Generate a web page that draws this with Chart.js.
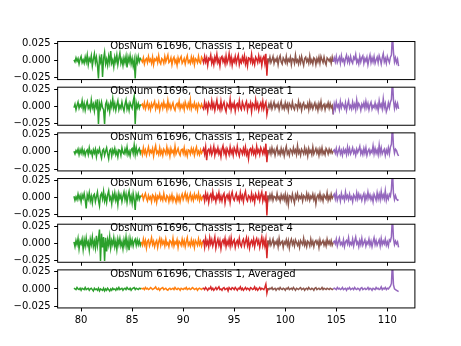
<!DOCTYPE html>
<html>
<head>
<meta charset="utf-8">
<script src="https://cdn.jsdelivr.net/npm/chart.js@4/dist/chart.umd.min.js"></script>
<style>
  body { margin: 0; background: #fff; }
  #fig { position: relative; width: 461px; height: 346px; overflow: hidden; }
  #fig canvas { position: absolute; left: 0; }
</style>
</head>
<body>
<div id="fig"></div>
<script>
// frequency of each channel (GHz)
const freqs = [
  79.3, 79.4, 79.5, 79.6, 79.7, 79.8, 79.9, 80.0, 80.1, 80.2,
  80.3, 80.4, 80.5, 80.6, 80.7, 80.8, 80.9, 81.0, 81.1, 81.2,
  81.3, 81.4, 81.5, 81.6, 81.7, 81.8, 81.9, 82.0, 82.1, 82.2,
  82.3, 82.4, 82.5, 82.6, 82.7, 82.8, 82.9, 83.0, 83.1, 83.2,
  83.3, 83.4, 83.5, 83.6, 83.7, 83.8, 83.9, 84.0, 84.1, 84.2,
  84.3, 84.4, 84.5, 84.6, 84.7, 84.8, 84.9, 85.0, 85.1, 85.2,
  85.3, 85.4, 85.5, 85.6, 85.7, 85.8, 85.9, 86.0, 86.1, 86.2,
  86.3, 86.4, 86.5, 86.6, 86.7, 86.8, 86.9, 87.0, 87.1, 87.2,
  87.3, 87.4, 87.5, 87.6, 87.7, 87.8, 87.9, 88.0, 88.1, 88.2,
  88.3, 88.4, 88.5, 88.6, 88.7, 88.8, 88.9, 89.0, 89.1, 89.2,
  89.3, 89.4, 89.5, 89.6, 89.7, 89.8, 89.9, 90.0, 90.1, 90.2,
  90.3, 90.4, 90.5, 90.6, 90.7, 90.8, 90.9, 91.0, 91.1, 91.2,
  91.3, 91.4, 91.5, 91.6, 91.7, 91.8, 91.9, 92.0, 92.1, 92.2,
  92.3, 92.4, 92.5, 92.6, 92.7, 92.8, 92.9, 93.0, 93.1, 93.2,
  93.3, 93.4, 93.5, 93.6, 93.7, 93.8, 93.9, 94.0, 94.1, 94.2,
  94.3, 94.4, 94.5, 94.6, 94.7, 94.8, 94.9, 95.0, 95.1, 95.2,
  95.3, 95.4, 95.5, 95.6, 95.7, 95.8, 95.9, 96.0, 96.1, 96.2,
  96.3, 96.4, 96.5, 96.6, 96.7, 96.8, 96.9, 97.0, 97.1, 97.2,
  97.3, 97.4, 97.5, 97.6, 97.7, 97.8, 97.9, 98.0, 98.1, 98.2,
  98.3, 98.4, 98.5, 98.6, 98.7, 98.8, 98.9, 99.0, 99.1, 99.2,
  99.3, 99.4, 99.5, 99.6, 99.7, 99.8, 99.9, 100.0, 100.1, 100.2,
  100.3, 100.4, 100.5, 100.6, 100.7, 100.8, 100.9, 101.0, 101.1, 101.2,
  101.3, 101.4, 101.5, 101.6, 101.7, 101.8, 101.9, 102.0, 102.1, 102.2,
  102.3, 102.4, 102.5, 102.6, 102.7, 102.8, 102.9, 103.0, 103.1, 103.2,
  103.3, 103.4, 103.5, 103.6, 103.7, 103.8, 103.9, 104.0, 104.1, 104.2,
  104.3, 104.4, 104.5, 104.6, 104.7, 104.8, 104.9, 105.0, 105.1, 105.2,
  105.3, 105.4, 105.5, 105.6, 105.7, 105.8, 105.9, 106.0, 106.1, 106.2,
  106.3, 106.4, 106.5, 106.6, 106.7, 106.8, 106.9, 107.0, 107.1, 107.2,
  107.3, 107.4, 107.5, 107.6, 107.7, 107.8, 107.9, 108.0, 108.1, 108.2,
  108.3, 108.4, 108.5, 108.6, 108.7, 108.8, 108.9, 109.0, 109.1, 109.2,
  109.3, 109.4, 109.5, 109.6, 109.7, 109.8, 109.9, 110.0, 110.1, 110.2,
  110.3, 110.4, 110.5, 110.6, 110.7, 110.8, 110.9, 111.0, 111.1
];

// spectra, in units of 1e-3 (bands: green, orange, red, brown, purple)
const repeat0 = [
  1, -2, 4, -1, 3, -5, 2, 6, -3, 1, -4, 5, -2, 8, -6, 3, -1, 7, -8, 2,
  10, -3, 5, -6, -26, 4, -2, 9, -24, 3, 12, -5, 2, -7, 6, -3, 14, -4, 1, -9,
  5, -2, 8, -6, 3, 11, -4, 2, -7, 4, -3, 6, -10, 5, -2, 7, -5, 3, -8, 1,
  -26, 4, -3, 6, -2, 3, 1,
  -2, 4, -5, 1, 3, -3, 6, -1, 2, -4, 5, -6, 2, 0, 4, -3, 7, -2, -5, 3,
  1, -4, 6, -2, 3, 8, -3, -1, 4, -6, 2, 5, -3, 1, -7, 4, -2, 3, 6, -4,
  -1, 3, -5, 2, 7, -3, 0, -4, 5, -2, 4, -6, 3, 1, -3, 6, -2, -4, 5, 2,
  -3, 6, -2, 4, -7, 3, 1, 8, -4, 2, -6, 5, -1, 9, -3, 2, -8, 4, 6, -2,
  3, -5, 7, -4, 1, 10, -3, 5, -7, 2, -2, 6, -4, 3, 8, -6, 1, -3, 5, -1,
  7, -5, 2, -8, 4, 3, -2, 9, -4, 1, -6, 5, 2, -3, 7, -1, 4, -7, 3, 6,
  -4, 10, -22, 3,
  -2, 5, -3, 1, 6, -4, 2, -1, 4, -6, 3, 7, -2, -5, 4, 1, -3, 6, -4, 2,
  -1, 5, -6, 3, 2, -4, 8, -2, 1, -5, 4, -3, 6, -1, -7, 3, 5, -2, 2, -4,
  7, -3, 1, -5, 4, 2, -6, 3, -2, 5, -4, 6, 1, -3, 5, -2, -6, 4, 2, -1,
  3, -4, 5, -2,
  4, -2, 6, -3, 1, 5, -4, 7, -1, 2, -5, 3, 8, -2, 4, -3, 6, -1, -4, 5,
  2, 9, -3, 1, -5, 6, -2, 4, 7, -4, 3, -1, 5, -6, 2, 8, -3, 4, -2, 6,
  -4, 1, 5, -3, 7, 2, -5, 4, 10, -2, 3, -4, 6, 1, -3, 5, 8, 40, 12, -2,
  4, -3, 2, -8
];
const repeat1 = [
  -2, 3, -5, 1, 6, -3, 2, -1, 8, -4, 4, -6, 2, 7, -3, 1, -5, 9, -2, 3,
  -7, 5, -1, 10, -26, 4, -3, 6, -2, -5, -26, 3, 7, -4, 2, -8, 5, -1, 11, -3,
  4, -6, 2, 8, -5, 1, -3, 6, -2, -7, 3, 9, -4, 2, -6, 5, 1, -3, 7, 14,
  -26, 5, -2, 4, -3, 2, 1,
  3, -2, 5, -4, 1, 6, -3, 2, -5, 4, -1, 3, 7, -4, 2, -2, 5, -6, 1, 4,
  -3, 6, -1, 2, -5, 8, -2, 3, -4, 1, 5, -3, -6, 2, 4, -1, 7, -4, 2, -2,
  3, -5, 6, 1, -3, 4, -2, 9, -4, 2, -1, 5, -3, 2, -6, 4, 1, -2, 3, -1,
  -4, 6, -2, 3, -7, 5, 1, -3, 8, -2, 4, -6, 2, 9, -3, 1, -5, 7, -4, 2,
  6, -3, -8, 4, 1, -2, 10, -5, 3, -1, 5, -7, 2, 4, -3, 8, -2, -5, 6, 1,
  -4, 3, 7, -6, 2, -1, 5, -8, 4, 2, -3, 9, -2, 4, -6, 1, 5, -3, 7, -4,
  2, 6, -12, -3,
  3, -2, 5, -4, 1, 6, -3, 2, -1, 4, -5, 2, 7, -3, 1, -4, 5, -2, 3, -6,
  4, 1, -3, 6, -2, -5, 3, 2, -4, 7, -1, 3, -6, 2, 5, -3, 1, -2, 4, -5,
  6, -2, 3, -4, 1, 5, -3, 2, -6, 4, -2, 7, -4, 1, 3, -5, 2, -1, 5, -3,
  4, -2, 1, -12,
  3, -4, 6, -1, 2, -5, 7, -2, 4, 1, -3, 5, -6, 2, 8, -3, 1, -4, 6, -2,
  3, -5, 9, -2, 4, 1, -6, 3, -1, 5, -3, 7, -2, 4, -5, 2, 6, -4, 1, -2,
  5, -3, 2, -6, 8, -1, 3, -4, 11, -2, 4, -8, -3, 5, -2, 6, 10, 40, 9, -3,
  5, -2, 4, -4
];
const repeat2 = [
  1, -3, 2, -1, 4, -4, 3, -2, 5, -3, 2, -5, 1, 3, -4, 6, -2, 1, -6, 3,
  -2, 4, -7, 2, -1, 5, -3, -9, 2, 4, -5, 1, 6, -3, -10, 2, 4, -6, 3, -2,
  5, -4, 1, -7, 3, 2, -5, 6, -1, -3, 4, -2, 7, -4, 1, -6, 3, 5, -2, 10,
  -4, 6, -3, 2, 5, -2, 3,
  -4, 6, -2, 3, -5, 1, 7, -3, 2, -1, 5, -6, 3, 9, -2, 1, -4, 6, -3, 2,
  -5, 4, 1, -3, 7, -2, 3, -6, 5, -1, 2, -4, 8, -3, 1, 5, -2, -5, 3, 4,
  -2, 6, -4, 1, -6, 3, 2, -3, 5, -1, 4, -5, 2, 7, -3, 1, -4, 3, -2, 1,
  5, -3, 7, -12, 2, 4, -2, 6, -4, 1, 8, -5, 3, -1, 6, -3, 2, -7, 4, 9,
  -2, 3, -6, 5, 1, -4, 7, -2, 3, -5, 6, 2, -3, 8, -1, -6, 4, 2, -3, 5,
  -2, 7, -4, 1, -10, 3, 5, -2, 6, -3, 2, -5, 8, -1, 3, -4, 6, 2, -3, 4,
  -2, 12, -15, 3,
  -2, 4, -3, 6, -1, 3, -5, 2, 7, -3, 1, -4, 5, -2, 3, -6, 2, 8, -3, 1,
  -5, 4, 2, -3, 6, -1, 3, -4, 9, -2, 2, -5, 4, 1, -3, 6, -2, 3, -6, 5,
  -1, 2, -4, 7, -3, 1, 5, -2, 3, -5, 4, -2, 6, -3, 1, -4, 5, 2, -3, 4,
  -1, 3, -2, 1,
  3, -2, 5, -4, 1, 6, -3, 2, -5, 4, -1, 3, -4, 7, -2, 5, -3, 1, 6, -2,
  2, -5, 4, -1, 3, 8, -3, 2, -4, 5, -2, 6, -5, 1, 4, -3, 2, -1, 9, -3,
  5, -2, 3, -4, 10, -2, 6, -3, 1, 4, -5, 3, -2, 6, -3, 7, 11, 40, 8, -2,
  4, 2, -3, -6
];
const repeat3 = [
  2, -4, 1, -3, 5, -2, 3, -6, 4, -1, 6, -3, -16, 4, -2, 7, -5, 2, -8, 3,
  5, -6, 1, 8, -4, -12, 3, 6, -2, 9, -5, 2, -7, 4, 10, -3, 1, -9, 5, -2,
  7, -4, 3, -10, 6, -1, 4, -6, 2, 8, -3, 5, -7, 3, 9, -5, 2, -8, 6, -3,
  -18, 4, -2, 5, -3, 2, 1,
  4, -3, 2, 6, -1, -5, 3, -2, 1, -6, 4, 2, -4, 3, -7, 2, -1, 5, -3, 1,
  -4, 6, -2, -5, 3, 1, -6, 2, -3, 4, -5, 1, -2, -7, 3, -4, 2, -6, 1, 5,
  -3, 2, 7, -2, 4, -5, 1, 6, -3, 2, -4, 5, -1, 3, -2, 6, -4, 2, -3, 1,
  3, -5, 6, -2, 4, -7, 2, 5, -3, 8, -2, 1, -6, 4, -1, 7, -4, 2, -5, 3,
  6, -8, 1, 4, -2, 5, -7, 3, 8, -1, -4, 2, 6, -3, 1, -5, 7, -2, 3, -6,
  4, 9, -2, -5, 3, 1, -4, 6, -3, 2, -7, 5, 1, -2, 6, -4, 3, 8, -5, 2,
  -3, 9, -26, 3,
  -3, 4, -2, 5, -4, 2, 1, -3, 6, -2, 1, -5, 4, -2, 3, -3, 5, -6, 2, -10,
  3, 2, -4, 5, -2, -8, 4, -1, 6, -3, 2, -1, 4, -5, 3, 1, -3, 6, -2, 4,
  -4, 2, -1, 5, -3, 3, -9, 1, 4, -2, 6, -3, 2, -5, 4, 1, -2, 7, -4, 2,
  -3, 5, -1, 2,
  5, -2, 7, -4, 1, 3, -5, 6, -1, 2, -4, 8, -1, 3, -3, 5, -2, 1, -6, 4,
  1, -3, 7, -2, 5, -1, 3, -4, 2, 6, -5, 3, -2, 8, -1, 4, -3, 2, -6, 5,
  1, -4, 7, -2, 5, -3, 9, -1, 4, -2, 10, -4, 3, -2, 5, 2, 12, 40, 6, -3,
  3, -2, -4, -3
];
const repeat4 = [
  2, -5, 4, -2, 7, -8, 3, -1, 6, -9, 5, -4, 8, -3, 2, -10, 6, -2, 9, -5,
  3, -7, 11, -4, 6, 20, -26, 14, -6, 9, -26, 8, -12, 5, -3, 10, -7, 4, -2, 8,
  -5, 3, -9, 6, -2, 7, -4, 2, -8, 5, -3, 9, -6, 4, -10, 7, -2, 5, -4, 3,
  6, -3, 5, -2, 4, -3, 2,
  -3, 6, -2, 4, -7, 3, 5, -4, 1, 8, -2, 3, -5, 1, 4, -6, 2, 7, -3, 5,
  -1, 3, -4, 6, -2, 1, -5, 4, 2, -3, 7, -4, 2, -1, 5, -6, 3, 1, -3, 6,
  -2, 4, -5, 2, 8, -3, 1, -4, 5, -2, 3, -6, 4, 1, -3, 6, -2, 3, -4, 2,
  4, -6, 7, -2, 3, -5, 8, -1, 5, -4, 2, 9, -7, 1, 6, -3, 4, -8, 2, 5,
  -1, 7, -5, 3, -2, 6, -4, 8, -3, 2, 5, -6, 1, 4, -3, 7, -2, -5, 3, 6,
  -4, 2, 8, -3, 5, -7, 1, 4, -2, 6, -5, 3, 7, -1, 4, -6, 2, 9, -3, 5,
  -4, 6, -22, 4,
  -2, 5, -3, 1, 6, -4, 2, -1, 4, -5, 7, -2, 1, 3, -6, 2, -1, 5, -3, 4,
  -7, 2, 6, -2, 3, -4, 5, 1, -3, 2, -6, 4, 1, -2, 7, -3, 2, -5, 3, 1,
  -4, 6, -2, 3, -5, 2, 4, -1, 3, -6, 5, -2, 1, 4, -3, 2, -4, 6, -1, 3,
  -2, 4, -3, 1,
  3, -1, 6, -4, 2, 7, -2, 1, -3, 5, -5, 2, 4, -1, 8, -3, 1, -2, 6, -4,
  3, 9, -1, 2, -5, 4, -2, 7, -3, 1, 5, -4, 2, -1, 6, -3, 3, -5, 2, 8,
  -2, 4, -3, 1, 5, -4, 7, -2, 3, -1, 6, -3, 2, -4, 5, 3, 10, 40, 7, -2,
  3, -1, 2, -6
];
const averaged = [
  1, 0, -1, 2, 0, -1, 1, -2, 1, 0, -1, 2, -1, 0, 1, -2, 0, 1, -1, -3,
  1, -1, 0, -2, 1, -3, 0, -1, -2, 1, -3, 0, -2, 1, -1, -3, 0, -2, 1, -1,
  0, -2, 1, -1, 2, -1, 0, 1, -2, 0, 1, -1, 2, 0, -1, 1, -2, 0, 1, 2,
  -1, 1, 0, -1, 1, 0, 1,
  0, 1, -1, 2, 0, 1, -1, 0, 2, 1, -1, 0, 1, 3, 0, -1, 1, -2, 0, 1,
  2, -1, 0, 1, -1, -2, 0, 1, -1, 0, 1, -1, 2, 0, -1, 1, 0, -2, 1, 0,
  -1, 1, 0, 2, -1, 0, 1, -1, 0, 2, 1, -1, 0, 1, -2, 0, 1, 0, -1, 1,
  1, -1, 2, 0, -2, 1, 0, 3, -1, 1, -2, 0, 2, -1, 1, 3, -1, 0, -2, 1,
  2, -1, 0, 1, -3, 2, 0, -1, 2, 1, -1, 2, 0, -2, 1, 0, 3, -1, 1, -2,
  0, 2, -1, 1, 0, -2, 2, 1, -1, 0, 3, -1, 1, -2, 0, 2, -1, 1, 0, -1,
  2, 7, -6, 1,
  -1, 1, 0, 2, -1, 0, 1, -2, 0, 1, -1, 2, 0, -1, 1, 0, -2, 1, 0, 2,
  -1, 0, 1, -1, 2, 0, -2, 1, 0, -1, 1, 2, -1, 0, 1, -2, 0, 1, -1, 2,
  0, -1, 1, 0, -2, 1, 2, -1, 0, 1, -1, 0, 2, -1, 1, 0, -1, 1, 0, -1,
  1, 0, -1, 0,
  1, 0, -1, 2, 0, 1, -1, 0, 2, -1, 0, 1, -2, 1, 0, 2, -1, 0, 1, -1,
  2, 0, -1, 1, 0, -2, 1, 2, -1, 0, 1, -1, 0, 2, -1, 1, 0, -2, 1, 0,
  -1, 2, 0, 1, -1, 0, 3, -1, 1, 0, 2, -1, 1, 0, 2, 4, 8, 40, 6, 0,
  -1, -2, -3, -4
];

const rowTitles = [
  'ObsNum 61696, Chassis 1, Repeat 0',
  'ObsNum 61696, Chassis 1, Repeat 1',
  'ObsNum 61696, Chassis 1, Repeat 2',
  'ObsNum 61696, Chassis 1, Repeat 3',
  'ObsNum 61696, Chassis 1, Repeat 4',
  'ObsNum 61696, Chassis 1, Averaged'
];
const rows = [repeat0, repeat1, repeat2, repeat3, repeat4, averaged];

// channel index where each band starts / ends (shared at the joins)
const bandEdges = [0, 66, 126, 190, 254, 318];
const bandColors = ['#2ca02c', '#ff7f0e', '#d62728', '#8c564b', '#9467bd'];

const xTicks = [80, 85, 90, 95, 100, 105, 110];
const yTicks = [-0.025, 0, 0.025];

// matplotlib-like subplot geometry
const W = 461, H = 346;
const axLeft = 0.125 * W, axRight = 0.9 * W;
const axTop = H * (1 - 0.88), axBottom = H * (1 - 0.11);
const axH = (axBottom - axTop) / (rows.length + (rows.length - 1) * 0.2);
const axGap = axH * 0.2;

const FONT = { family: 'DejaVu Sans', size: 10 };

const framePlugin = {
  id: 'frame',
  afterDatasetsDraw(chart, args, opts) {
    const { ctx, chartArea: a } = chart;
    ctx.save();
    ctx.strokeStyle = '#000';
    ctx.lineWidth = 1;
    ctx.strokeRect(a.left, a.top, a.right - a.left, a.bottom - a.top);
    ctx.font = '10px "DejaVu Sans"';
    ctx.fillStyle = '#000';
    ctx.textBaseline = 'alphabetic';
    ctx.textAlign = 'left';
    ctx.fillText(opts.text, a.left + 52.5, a.top + 7.2);
    ctx.restore();
  }
};

function fmtY(v) {
  const s = Math.abs(v).toFixed(3);
  return v < 0 ? '\u2212' + s : s;
}

const fig = document.getElementById('fig');

rows.forEach((vals, r) => {
  const isLast = r === rows.length - 1;
  const top = axTop + r * (axH + axGap);
  const canvasTop = Math.floor(top) - 10;
  const padTop = top - canvasTop;
  const xAxisH = isLast ? 26 : 8;
  const height = Math.ceil(padTop + axH + xAxisH) + 1;
  const padBottom = height - xAxisH - padTop - axH;

  const canvas = document.createElement('canvas');
  canvas.width = W;
  canvas.height = height;
  canvas.style.top = canvasTop + 'px';
  canvas.style.width = W + 'px';
  canvas.style.height = height + 'px';
  fig.appendChild(canvas);

  const datasets = bandColors.map((color, k) => {
    const pts = [];
    for (let i = bandEdges[k]; i <= bandEdges[k + 1]; i++) {
      pts.push({ x: freqs[i], y: vals[i] / 1000 });
    }
    return {
      data: pts,
      borderColor: color,
      borderWidth: 1.5,
      pointRadius: 0,
      fill: false,
      tension: 0,
      order: bandColors.length - k
    };
  });

  new Chart(canvas, {
    type: 'line',
    data: { datasets },
    plugins: [framePlugin],
    options: {
      responsive: false,
      animation: false,
      devicePixelRatio: 1,
      layout: { padding: { left: 0, right: W - axRight, top: padTop, bottom: padBottom } },
      plugins: {
        legend: { display: false },
        tooltip: { enabled: false },
        frame: { text: rowTitles[r] }
      },
      scales: {
        x: {
          type: 'linear',
          min: 77.7,
          max: 112.7,
          afterBuildTicks: (s) => { s.ticks = xTicks.map(v => ({ value: v })); },
          afterFit: (s) => { s.height = xAxisH; s.paddingLeft = 0; s.paddingRight = 0; },
          border: { display: false },
          grid: { drawOnChartArea: false, drawTicks: true, tickLength: 3.5, tickWidth: 1, tickColor: '#000' },
          ticks: {
            display: isLast,
            color: '#000',
            font: FONT,
            padding: 3,
            maxRotation: 0,
            callback: (v) => String(v)
          }
        },
        y: {
          type: 'linear',
          min: -0.0278,
          max: 0.0278,
          afterBuildTicks: (s) => { s.ticks = yTicks.map(v => ({ value: v })); },
          afterFit: (s) => { s.width = axLeft; s.paddingTop = 0; s.paddingBottom = 0; },
          border: { display: false },
          grid: { drawOnChartArea: false, drawTicks: true, tickLength: 3.5, tickWidth: 1, tickColor: '#000' },
          ticks: {
            color: '#000',
            font: FONT,
            padding: 3.5,
            callback: (v) => fmtY(v)
          }
        }
      }
    }
  });
});
</script>
</body>
</html>
